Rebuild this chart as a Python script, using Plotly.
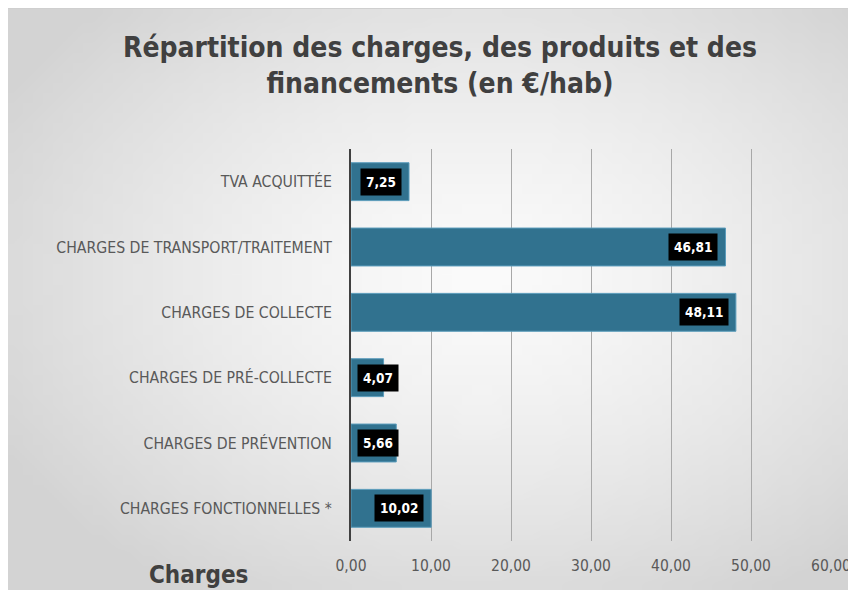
import base64
import struct
import zlib

import plotly.graph_objects as go

categories = [
    "CHARGES FONCTIONNELLES *",
    "CHARGES DE PRÉVENTION",
    "CHARGES DE PRÉ-COLLECTE",
    "CHARGES DE COLLECTE",
    "CHARGES DE TRANSPORT/TRAITEMENT",
    "TVA ACQUITTÉE",
]
values = [10.02, 5.66, 4.07, 48.11, 46.81, 7.25]
x_ticks = [0, 10, 20, 30, 40, 50, 60]

FONT = "DejaVu Sans Condensed, Roboto, sans-serif"
BAR = "#31728f"

# page body keeps its 8px margin, so the figure is 8px smaller than the window
W, H = 848, 582
L, R, T, B = 343, 25, 141, 49
PW, PH = W - L - R, H - T - B


def _gradient_png(w=85, h=58):
    """Small radial grey gradient used as the card background."""
    rows = b""
    for j in range(h):
        row = b"\x00"
        for i in range(w):
            dx = (i - w * 0.55) / (w * 0.5)
            dy = (j - h * 0.45) / (h * 0.5)
            d = min(1.0, (dx * dx + dy * dy) ** 0.5 / 1.3)
            c = int(251 - 40 * d ** 1.4)
            row += bytes([c, c, c])
        rows += row

    def chunk(tag, data):
        return struct.pack(">I", len(data)) + tag + data + struct.pack(">I", zlib.crc32(tag + data) & 0xffffffff)

    png = b"\x89PNG\r\n\x1a\n" + chunk(b"IHDR", struct.pack(">IIBBBBB", w, h, 8, 2, 0, 0, 0))
    png += chunk(b"IDAT", zlib.compress(rows)) + chunk(b"IEND", b"")
    return "data:image/png;base64," + base64.b64encode(png).decode()


fig = go.Figure(go.Bar(
    x=values,
    y=categories,
    orientation="h",
    marker=dict(color=BAR, line=dict(color="#5a9cbb", width=1)),
    hoverinfo="skip",
))

# value labels: black boxes near the end of each bar
for cat, v in zip(categories, values):
    small = v < 7
    fig.add_annotation(
        x=0 if small else v, y=cat,
        xanchor="left" if small else "right",
        xshift=6 if small else -7,
        text="<b>" + f"{v:.2f}".replace(".", ",") + "</b>",
        showarrow=False,
        font=dict(family=FONT, size=13.5, color="white"),
        bgcolor="black", borderpad=5,
    )

fig.add_layout_image(
    source=_gradient_png(), xref="paper", yref="paper",
    x=-L / PW, y=(PH + T) / PH, sizex=W / PW, sizey=H / PH,
    xanchor="left", yanchor="top", sizing="stretch", layer="below",
)
fig.add_shape(type="line", xref="paper", yref="paper",
              x0=-L / PW, x1=(PW + R) / PW, y0=(PH + T) / PH, y1=(PH + T) / PH,
              line=dict(color="#cfcfcf", width=2))

fig.update_layout(
    width=W, height=H,
    margin=dict(l=L, r=R, t=T, b=B, autoexpand=False),
    paper_bgcolor="white",
    plot_bgcolor="rgba(0,0,0,0)",
    separators=", ",
    bargap=0.42,
    showlegend=False,
    title=dict(
        text="<b>Répartition des charges, des produits et des<br>financements (en €/hab)</b>",
        x=432 / W, xanchor="center", xref="container",
        y=1 - 49 / H, yanchor="top",
        font=dict(family=FONT, size=28, color="#404040"),
        pad=dict(t=0),
    ),
    xaxis=dict(
        range=[0, 60], tickvals=x_ticks, tickformat=".2f",
        showgrid=True, gridcolor="#a8a8a8", gridwidth=1,
        zeroline=False, showline=False, ticks="",
        ticklabelstandoff=13,
        tickfont=dict(family=FONT, size=15.5, color="#595959"),
    ),
    yaxis=dict(
        showgrid=False, zeroline=False,
        showline=True, linecolor="#404040", linewidth=2,
        ticks="", ticklabelstandoff=14,
        tickfont=dict(family=FONT, size=15.7, color="#595959"),
    ),
)

fig.add_annotation(
    xref="paper", yref="paper", x=(190 - L) / PW, y=(PH + T - 567) / PH,
    xanchor="center", yanchor="middle",
    text="<b>Charges</b>", showarrow=False,
    font=dict(family=FONT, size=24, color="#404040"),
)

fig.write_html("out.html")
